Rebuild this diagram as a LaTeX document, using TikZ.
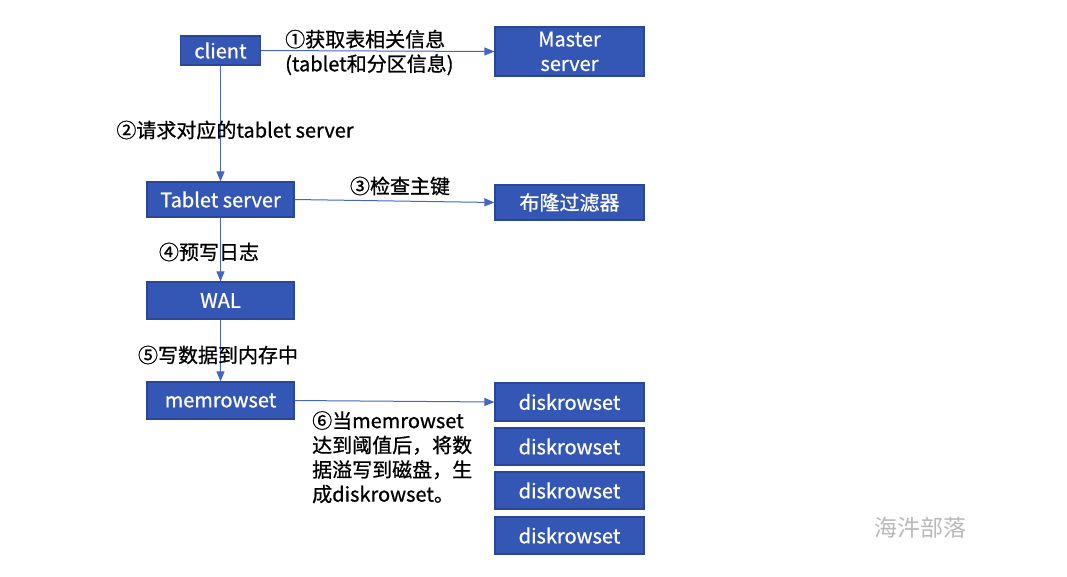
\documentclass[tikz,border=0pt]{standalone}
\usepackage{fontspec}
\setmainfont{Noto Sans CJK SC}
\newfontfamily\medfont{Noto Sans CJK SC}[FakeBold=0.8]
\usetikzlibrary{arrows.meta}
\definecolor{boxfill}{RGB}{52,86,180}
\definecolor{boxline}{RGB}{42,70,150}
\definecolor{arrowc}{RGB}{68,102,192}
\definecolor{wmark}{RGB}{185,185,185}
\begin{document}
\begin{tikzpicture}[x=1pt,y=-1pt,
  box/.style={draw=boxline,line width=1.2pt,fill=boxfill,text=white,inner sep=0pt,align=center,
    font=\medfont\fontsize{20}{24.5}\selectfont},
  lbl/.style={inner sep=0pt,text=black,font=\medfont\fontsize{20}{24.5}\selectfont},
  conn/.style={draw=arrowc,line width=1pt,-{Triangle[length=10pt,width=8pt]}}]
\useasboundingbox[fill=white] (0,0) rectangle (1067,576);
% boxes
\node[box,minimum width=80pt,minimum height=29pt] (client) at (220.5,50.5) {client};
\node[box,minimum width=149pt,minimum height=49pt] (master) at (569.5,51.5) {Master\\server};
\node[box,minimum width=147pt,minimum height=35pt] (tablet) at (220.5,199.5) {Tablet server};
\node[box,minimum width=149pt,minimum height=35pt] (bloom) at (569.5,202.5) {布隆过滤器};
\node[box,minimum width=147pt,minimum height=37pt] (wal) at (220.5,300.5) {WAL};
\node[box,minimum width=147pt,minimum height=37pt] (mem) at (220.5,400.5) {memrowset};
\node[box,minimum width=149pt,minimum height=38pt] (disk1) at (569.5,402) {diskrowset};
\node[box,minimum width=149pt,minimum height=37pt] (disk2) at (569.5,446.5) {diskrowset};
\node[box,minimum width=149pt,minimum height=37pt] (disk3) at (569.5,490.5) {diskrowset};
\node[box,minimum width=149pt,minimum height=37pt] (disk4) at (569.5,535.5) {diskrowset};
% connectors
\draw[conn] (client.east) -- (master.west);
\draw[conn] (client.south) -- (tablet.north);
\draw[conn] (tablet.east) -- (bloom.west);
\draw[conn] (tablet.south) -- (wal.north);
\draw[conn] (wal.south) -- (mem.north);
\draw[conn] (mem.east) -- (disk1.west);
% labels
\node[lbl,anchor=west,align=left] (l1) at (285,52.5) {①获取表相关信息\\(tablet和分区信息)};
\node[lbl] (l2) at (235,130) {②请求对应的tablet server};
\node[lbl] (l3) at (400,186) {③检查主键};
\node[lbl] (l4) at (209,252) {④预写日志};
\node[lbl] (l5) at (218,355) {⑤写数据到内存中};
\node[lbl,anchor=north west,align=left] (l6) at (312,411) {⑥当memrowset\\达到阈值后，将数\\据溢写到磁盘，生\\成diskrowset。};
\node[inner sep=0pt,text=wmark,font=\fontsize{23}{28}\selectfont] (wm) at (920,528) {海汼部落};
\end{tikzpicture}
\end{document}
